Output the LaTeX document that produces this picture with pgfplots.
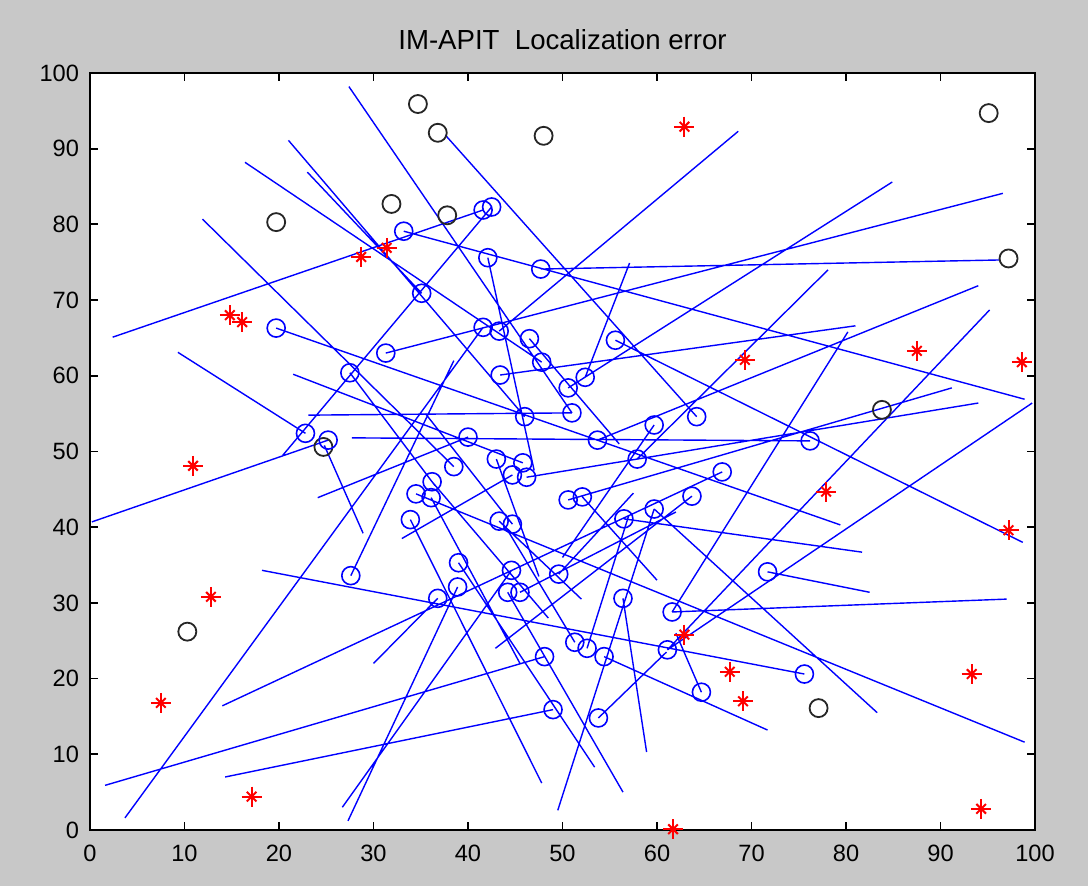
\documentclass[border=0pt]{standalone}
\usepackage{fontspec}
\setmainfont{Liberation Sans}
\usepackage{pgfplots}
\pgfplotsset{compat=1.18}
\definecolor{figbg}{HTML}{C8C8C8}
\definecolor{mblue}{HTML}{0000FF}
\definecolor{mred}{HTML}{FF0000}

\begin{document}
\begin{tikzpicture}
\fill[figbg] (-45pt,-28pt) rectangle (499pt,415pt);
\begin{axis}[
  at={(0,0)}, anchor=south west,
  scale only axis, width=472.5pt, height=378.5pt,
  xmin=0, xmax=100, ymin=0, ymax=100,
  xtick={0,10,...,100}, ytick={0,10,...,100},
  tick align=inside, major tick length=4pt,
  axis line style={line width=0.9pt},
  every tick/.style={black, line width=0.9pt},
  axis background/.style={fill=white},
  tick label style={font=\fontsize{11.8}{12}\selectfont},
  xticklabel style={yshift=-4pt},
  yticklabel style={xshift=-2pt},
  /pgf/number format/assume math mode=true,
  title={IM-APIT\ \ Localization error},
  title style={at={(0.5,1)}, anchor=base, yshift=5.5pt, font=\fontsize{13.8}{15}\selectfont},
  clip=false,
]
% anchors (red asterisks)
\addplot[only marks, mark=+, mark size=5pt, mred, mark options={line width=1pt}] coordinates {
(62.9,92.9) (28.7,75.7) (31.4,76.9) (14.8,68.0) (16.1,67.1) (69.3,62.1) (87.5,63.3) (98.6,61.8)
(10.9,48.1) (77.9,44.7) (97.2,39.6) (12.8,30.8) (7.5,16.8) (62.9,25.8) (67.7,20.9) (69.1,17.0)
(93.3,20.6) (17.1,4.4) (61.7,0.1) (94.3,2.8)};
\addplot[only marks, mark=x, mark size=3.4pt, mred, mark options={line width=1pt}] coordinates {
(62.9,92.9) (28.7,75.7) (31.4,76.9) (14.8,68.0) (16.1,67.1) (69.3,62.1) (87.5,63.3) (98.6,61.8)
(10.9,48.1) (77.9,44.7) (97.2,39.6) (12.8,30.8) (7.5,16.8) (62.9,25.8) (67.7,20.9) (69.1,17.0)
(93.3,20.6) (17.1,4.4) (61.7,0.1) (94.3,2.8)};
% nodes that were not located
\addplot[only marks, mark=o, mark size=4.5pt, black!85, mark options={line width=0.9pt}] coordinates {
(34.7,95.9) (36.8,92.1) (48.0,91.7) (19.7,80.3) (31.9,82.7) (37.8,81.2) (95.1,94.7) (97.2,75.5)
(83.8,55.5) (24.7,50.6) (10.3,26.2) (77.1,16.1)};
% error lines: estimate -> true position
\addplot[mblue, line width=0.7pt, unbounded coords=jump] coordinates {
(41.6,81.9) (2.4,65.1) (nan,nan)
(33.2,79.1) (98.9,56.9) (nan,nan)
(47.7,74.1) (96.3,75.3) (nan,nan)
(42.5,82.3) (20.4,49.5) (nan,nan)
(51.0,55.1) (27.4,98.2) (nan,nan)
(46.0,54.6) (21.0,91.1) (nan,nan)
(35.1,70.9) (23.0,86.9) (nan,nan)
(47.8,61.8) (16.4,88.2) (nan,nan)
(38.5,48.0) (11.9,80.7) (nan,nan)
(43.3,65.9) (68.6,92.3) (nan,nan)
(64.2,54.6) (37.6,91.8) (nan,nan)
(50.6,58.4) (84.9,85.6) (nan,nan)
(31.3,63.0) (96.6,84.1) (nan,nan)
(52.4,59.8) (57.1,74.9) (nan,nan)
(22.8,52.4) (9.3,63.1) (nan,nan)
(25.2,51.5) (0.2,40.7) (nan,nan)
(57.9,49.0) (78.1,74.0) (nan,nan)
(53.7,51.5) (94.0,71.9) (nan,nan)
(43.4,60.1) (81.0,66.6) (nan,nan)
(61.6,28.8) (80.2,65.8) (nan,nan)
(61.1,23.8) (95.2,68.7) (nan,nan)
(61.1,23.8) (99.7,56.4) (nan,nan)
(50.6,43.6) (91.2,58.4) (nan,nan)
(46.2,46.6) (94.0,56.4) (nan,nan)
(55.6,64.7) (98.7,38.0) (nan,nan)
(19.7,66.3) (79.4,40.3) (nan,nan)
(56.5,41.1) (81.7,36.7) (nan,nan)
(71.7,34.1) (82.5,31.4) (nan,nan)
(61.6,28.8) (97.0,30.5) (nan,nan)
(59.7,42.4) (83.3,15.5) (nan,nan)
(34.5,44.4) (98.9,11.6) (nan,nan)
(54.4,22.9) (71.7,13.2) (nan,nan)
(56.4,30.6) (58.9,10.3) (nan,nan)
(44.2,31.4) (56.4,5.0) (nan,nan)
(39.0,35.3) (53.4,8.3) (nan,nan)
(59.7,42.4) (49.5,2.6) (nan,nan)
(33.9,41.0) (47.8,6.2) (nan,nan)
(44.6,34.3) (26.7,3.0) (nan,nan)
(38.9,32.1) (27.3,1.2) (nan,nan)
(41.6,66.4) (3.7,1.6) (nan,nan)
(48.1,22.9) (1.6,5.9) (nan,nan)
(49.0,15.9) (14.3,7.0) (nan,nan)
(66.9,47.3) (14.0,16.4) (nan,nan)
(75.6,20.6) (18.2,34.3) (nan,nan)
(40.0,51.9) (24.1,43.9) (nan,nan)
(24.8,50.8) (28.9,39.2) (nan,nan)
(45.8,48.5) (21.5,60.2) (nan,nan)
(51.0,55.1) (23.1,54.8) (nan,nan)
(76.2,51.4) (27.7,51.8) (nan,nan)
(63.7,44.1) (42.9,24.0) (nan,nan)
(27.6,33.6) (38.5,62.0) (nan,nan)
(42.1,75.6) (47.0,47.5) (nan,nan)
(27.5,60.4) (36.5,45.5) (nan,nan)
(46.5,64.9) (56.0,51.0) (nan,nan)
(59.7,53.5) (50.0,36.0) (nan,nan)
(43.0,49.0) (47.5,33.5) (nan,nan)
(36.2,46.0) (48.5,28.0) (nan,nan)
(44.7,46.9) (33.0,38.5) (nan,nan)
(36.1,43.9) (45.5,22.0) (nan,nan)
(52.1,44.0) (60.0,33.0) (nan,nan)
(43.3,40.8) (52.0,30.5) (nan,nan)
(44.7,40.4) (35.5,55.0) (nan,nan)
(49.6,33.8) (57.5,44.5) (nan,nan)
(36.8,30.6) (30.0,22.0) (nan,nan)
(45.5,31.4) (62.0,42.0) (nan,nan)
(51.3,24.8) (44.0,40.0) (nan,nan)
(52.6,24.0) (57.0,41.5) (nan,nan)
(64.7,18.2) (62.0,26.0) (nan,nan)
(53.8,14.8) (61.0,23.5)
};
% located nodes (estimated positions)
\addplot[only marks, mark=o, mark size=4.5pt, mblue, mark options={line width=0.8pt}] coordinates {
(33.2,79.1) (41.6,81.9) (42.5,82.3) (42.1,75.6) (47.7,74.1) (35.1,70.9) (19.7,66.3) (31.3,63.0)
(41.6,66.4) (43.3,65.9) (46.5,64.9) (55.6,64.7) (47.8,61.8) (27.5,60.4) (43.4,60.1) (50.6,58.4)
(52.4,59.8) (51.0,55.1) (46.0,54.6) (64.2,54.6) (22.8,52.4) (25.2,51.5) (59.7,53.5) (53.7,51.5)
(40.0,51.9) (43.0,49.0) (45.8,48.5) (38.5,48.0) (57.9,49.0) (76.2,51.4) (36.2,46.0) (44.7,46.9)
(46.2,46.6) (66.9,47.3) (34.5,44.4) (36.1,43.9) (50.6,43.6) (52.1,44.0) (63.7,44.1) (33.9,41.0)
(43.3,40.8) (44.7,40.4) (56.5,41.1) (59.7,42.4) (27.6,33.6) (39.0,35.3) (44.6,34.3) (49.6,33.8)
(38.9,32.1) (36.8,30.6) (44.2,31.4) (45.5,31.4) (56.4,30.6) (61.6,28.8) (71.7,34.1) (51.3,24.8)
(52.6,24.0) (48.1,22.9) (54.4,22.9) (61.1,23.8) (75.6,20.6) (64.7,18.2) (49.0,15.9) (53.8,14.8)};
\end{axis}
\end{tikzpicture}
\end{document}
